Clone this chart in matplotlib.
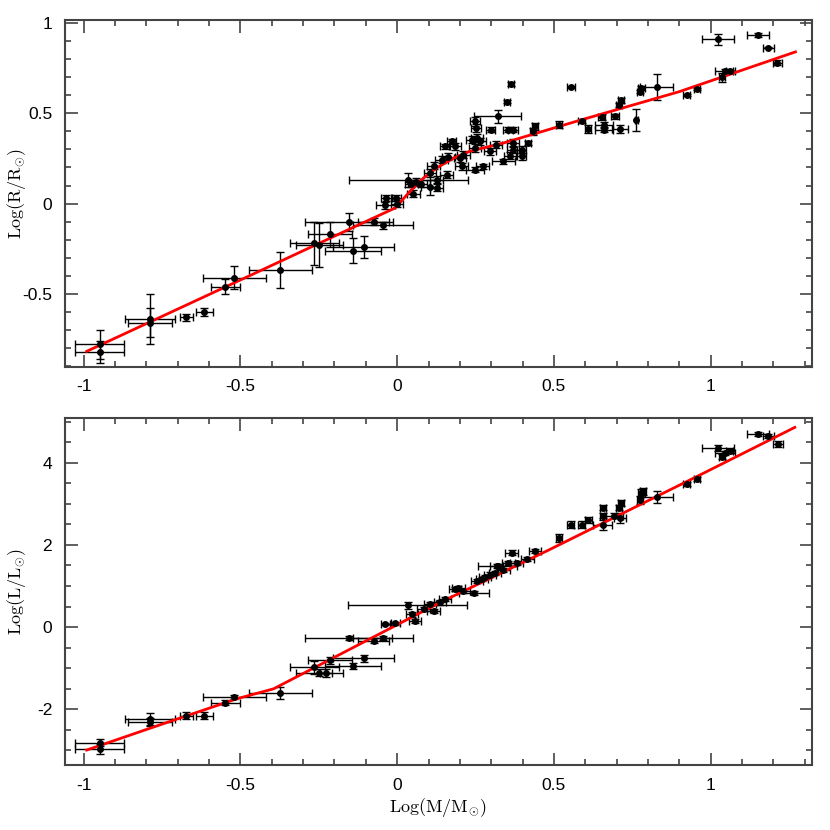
import matplotlib
matplotlib.use("Agg")
import matplotlib.pyplot as plt
from matplotlib.ticker import MultipleLocator, FuncFormatter

plt.rcParams["font.family"] = ["Liberation Sans", "DejaVu Sans"]
plt.rcParams["mathtext.fontset"] = "cm"
plt.rcParams["axes.unicode_minus"] = False

# --- mass-radius data: log M, err, log R, err ---
mass_r = [-0.949, -0.949, -0.789, -0.789, -0.672, -0.615, -0.548, -0.519, -0.373,
          -0.264, -0.248, -0.213, -0.153, -0.141, -0.107, -0.075, -0.046, -0.038,
          -0.035, -0.003, 0.0, 0.036, 0.045, 0.06, 0.075, 0.052, 0.105, 0.105,
          0.116, 0.126, 0.126, 0.142, 0.158, 0.163, 0.153, 0.174, 0.185, 0.20,
          0.206, 0.211, 0.238, 0.248, 0.252, 0.254, 0.248, 0.248, 0.273, 0.264,
          0.32, 0.298, 0.354, 0.369, 0.296, 0.315, 0.339, 0.37, 0.37, 0.36,
          0.351, 0.362, 0.44, 0.434, 0.418, 0.397, 0.397, 0.517, 0.554, 0.588,
          0.609, 0.652, 0.659, 0.659, 0.694, 0.71, 0.713, 0.708, 0.763, 0.774,
          0.779, 0.827, 0.923, 0.957, 1.024, 1.151, 1.183, 1.212, 1.037, 1.045, 1.06]
mass_r_err = [0.078, 0.078, 0.08, 0.07, 0.021, 0.028, 0.047, 0.10, 0.10,
              0.078, 0.076, 0.07, 0.14, 0.088, 0.098, 0.05, 0.095, 0.03,
              0.015, 0.015, 0.02, 0.19, 0.02, 0.02, 0.02, 0.02, 0.02, 0.03,
              0.02, 0.02, 0.02, 0.02, 0.02, 0.02, 0.015, 0.015, 0.02, 0.02,
              0.02, 0.02, 0.02, 0.015, 0.015, 0.02, 0.02, 0.03, 0.02, 0.02,
              0.076, 0.015, 0.015, 0.015, 0.02, 0.02, 0.037, 0.02, 0.02, 0.02,
              0.01, 0.01, 0.01, 0.01, 0.01, 0.015, 0.015, 0.01, 0.012, 0.01,
              0.01, 0.01, 0.028, 0.028, 0.012, 0.025, 0.01, 0.01, 0.005, 0.01,
              0.01, 0.054, 0.01, 0.01, 0.051, 0.035, 0.018, 0.015, 0.01, 0.032, 0.01]
log_r = [-0.78, -0.82, -0.64, -0.66, -0.63, -0.60, -0.46, -0.41, -0.37,
         -0.22, -0.23, -0.17, -0.10, -0.26, -0.24, -0.10, -0.12, -0.01,
         0.03, 0.03, 0.0, 0.13, 0.11, 0.12, 0.11, 0.055, 0.17, 0.09,
         0.21, 0.087, 0.133, 0.243, 0.16, 0.26, 0.317, 0.344, 0.317, 0.25,
         0.206, 0.27, 0.354, 0.455, 0.418, 0.363, 0.308, 0.188, 0.206, 0.344,
         0.483, 0.409, 0.409, 0.409, 0.29, 0.326, 0.234, 0.335, 0.298, 0.265,
         0.565, 0.663, 0.427, 0.40, 0.335, 0.298, 0.261, 0.436, 0.645, 0.456,
         0.413, 0.479, 0.436, 0.409, 0.483, 0.413, 0.571, 0.547, 0.464, 0.62,
         0.639, 0.645, 0.602, 0.634, 0.91, 0.934, 0.864, 0.781, 0.70, 0.732, 0.732]
log_r_err = [0.08, 0.06, 0.14, 0.08, 0.02, 0.02, 0.04, 0.063, 0.10,
             0.12, 0.12, 0.07, 0.05, 0.07, 0.06, 0.02, 0.02, 0.02,
             0.015, 0.015, 0.02, 0.04, 0.02, 0.02, 0.02, 0.02, 0.02, 0.04,
             0.02, 0.02, 0.02, 0.02, 0.02, 0.02, 0.015, 0.015, 0.02, 0.02,
             0.02, 0.02, 0.02, 0.025, 0.02, 0.02, 0.02, 0.015, 0.015, 0.02,
             0.037, 0.015, 0.015, 0.015, 0.02, 0.02, 0.015, 0.02, 0.02, 0.02,
             0.01, 0.01, 0.02, 0.02, 0.01, 0.02, 0.02, 0.02, 0.005, 0.01,
             0.02, 0.015, 0.015, 0.015, 0.012, 0.02, 0.015, 0.01, 0.06, 0.01,
             0.01, 0.07, 0.005, 0.005, 0.03, 0.01, 0.005, 0.015, 0.025, 0.015, 0.01]

# --- mass-luminosity data: log M, err, log L, err ---
mass_l = [-0.949, -0.949, -0.789, -0.789, -0.672, -0.615, -0.548, -0.519, -0.373,
          -0.264, -0.248, -0.227, -0.213, -0.155, -0.141, -0.107, -0.075, -0.046,
          -0.038, -0.006, 0.033, 0.047, 0.057, 0.084, 0.105, 0.116, 0.137, 0.153,
          0.185, 0.195, 0.211, 0.245, 0.254, 0.27, 0.28, 0.296, 0.312, 0.317,
          0.32, 0.339, 0.355, 0.365, 0.381, 0.415, 0.44, 0.516, 0.553, 0.588,
          0.61, 0.656, 0.656, 0.656, 0.69, 0.71, 0.713, 0.708, 0.774, 0.779,
          0.784, 0.827, 0.923, 0.955, 1.023, 1.037, 1.045, 1.06, 1.151, 1.183, 1.214]
mass_l_err = [0.078, 0.078, 0.08, 0.07, 0.021, 0.028, 0.047, 0.10, 0.10,
              0.078, 0.076, 0.02, 0.07, 0.14, 0.088, 0.098, 0.05, 0.095,
              0.015, 0.015, 0.19, 0.02, 0.02, 0.02, 0.02, 0.02, 0.02, 0.02,
              0.02, 0.02, 0.02, 0.047, 0.02, 0.02, 0.02, 0.02, 0.02, 0.02,
              0.061, 0.02, 0.02, 0.02, 0.02, 0.02, 0.02, 0.01, 0.01, 0.01,
              0.01, 0.01, 0.01, 0.03, 0.03, 0.02, 0.01, 0.01, 0.01, 0.01,
              0.01, 0.054, 0.01, 0.01, 0.051, 0.01, 0.032, 0.01, 0.035, 0.018, 0.015]
log_l = [-2.81, -2.97, -2.24, -2.30, -2.15, -2.15, -1.84, -1.70, -1.61,
         -0.98, -1.11, -1.11, -0.81, -0.27, -0.95, -0.76, -0.33, -0.27,
         0.07, 0.09, 0.53, 0.31, 0.15, 0.44, 0.56, 0.40, 0.60, 0.68,
         0.92, 0.96, 0.88, 0.84, 1.12, 1.18, 1.23, 1.28, 1.32, 1.48,
         1.48, 1.40, 1.57, 1.81, 1.57, 1.66, 1.85, 2.17, 2.49, 2.49,
         2.61, 2.90, 2.71, 2.49, 2.71, 2.66, 3.02, 2.90, 3.10, 3.26,
         3.30, 3.16, 3.49, 3.60, 4.35, 4.15, 4.23, 4.29, 4.70, 4.65, 4.46]
log_l_err = [0.08, 0.12, 0.15, 0.10, 0.08, 0.08, 0.06, 0.06, 0.15,
             0.15, 0.08, 0.10, 0.08, 0.05, 0.08, 0.08, 0.06, 0.05,
             0.03, 0.03, 0.08, 0.06, 0.05, 0.05, 0.05, 0.05, 0.05, 0.05,
             0.05, 0.05, 0.05, 0.05, 0.05, 0.05, 0.05, 0.05, 0.05, 0.05,
             0.05, 0.05, 0.05, 0.06, 0.05, 0.05, 0.05, 0.10, 0.08, 0.08,
             0.08, 0.06, 0.06, 0.12, 0.06, 0.12, 0.08, 0.06, 0.10, 0.10,
             0.08, 0.15, 0.05, 0.05, 0.07, 0.05, 0.05, 0.05, 0.04, 0.04, 0.08]

# fitted relations
fit_r_x = [-0.99, -0.49, -0.086, -0.006, 0.041, 0.083, 0.126, 0.178, 0.232, 0.338, 0.58, 0.90, 1.27]
fit_r_y = [-0.818, -0.415, -0.088, -0.024, 0.068, 0.14, 0.197, 0.25, 0.29, 0.335, 0.46, 0.62, 0.84]
fit_l_x = [-0.99, -0.792, -0.51, -0.394, 0.137, 0.487, 0.965, 1.268]
fit_l_y = [-2.99, -2.47, -1.74, -1.50, 0.60, 1.89, 3.70, 4.86]

fig = plt.figure(figsize=(8.3, 8.3), dpi=100)
ax1 = fig.add_axes([0.078, 0.558, 0.900, 0.418])
ax2 = fig.add_axes([0.078, 0.078, 0.900, 0.418])

fmt = FuncFormatter(lambda v, p: "%g" % v)

def style(ax, ymaj, ymin):
    ax.xaxis.set_major_locator(MultipleLocator(0.5))
    ax.xaxis.set_minor_locator(MultipleLocator(0.1))
    ax.yaxis.set_major_locator(MultipleLocator(ymaj))
    ax.yaxis.set_minor_locator(MultipleLocator(ymin))
    ax.xaxis.set_major_formatter(fmt)
    ax.yaxis.set_major_formatter(fmt)
    ax.tick_params(which="both", direction="in", top=True, right=True,
                   color="#444444", width=1.2, labelsize=12.5)
    ax.tick_params(which="major", length=9, pad=9)
    ax.tick_params(which="minor", length=4.5)
    for s in ax.spines.values():
        s.set_color("#444444")
        s.set_linewidth(1.5)
    ax.set_xlim(-1.06, 1.322)

# top: radius
ax1.errorbar(mass_r, log_r, xerr=mass_r_err, yerr=log_r_err, fmt="o", ms=4,
             color="black", ecolor="black", elinewidth=1, capsize=3, capthick=1)
ax1.plot(fit_r_x, fit_r_y, color="red", lw=2)
style(ax1, 0.5, 0.1)
ax1.set_ylim(-0.904, 1.017)
ax1.set_ylabel(r"$\mathrm{Log(R/R_{\odot})}$", fontsize=13)
ax1.yaxis.set_label_coords(-0.049, 0.5)

# bottom: luminosity
ax2.errorbar(mass_l, log_l, xerr=mass_l_err, yerr=log_l_err, fmt="o", ms=4,
             color="black", ecolor="black", elinewidth=1, capsize=3, capthick=1)
ax2.plot(fit_l_x, fit_l_y, color="red", lw=2)
style(ax2, 2, 0.5)
ax2.set_ylim(-3.36, 5.08)
ax2.set_ylabel(r"$\mathrm{Log(L/L_{\odot})}$", fontsize=13)
ax2.yaxis.set_label_coords(-0.049, 0.5)
ax2.set_xlabel(r"$\mathrm{Log(M/M_{\odot})}$", fontsize=13, labelpad=2)

fig.savefig("out.png", dpi=100)
